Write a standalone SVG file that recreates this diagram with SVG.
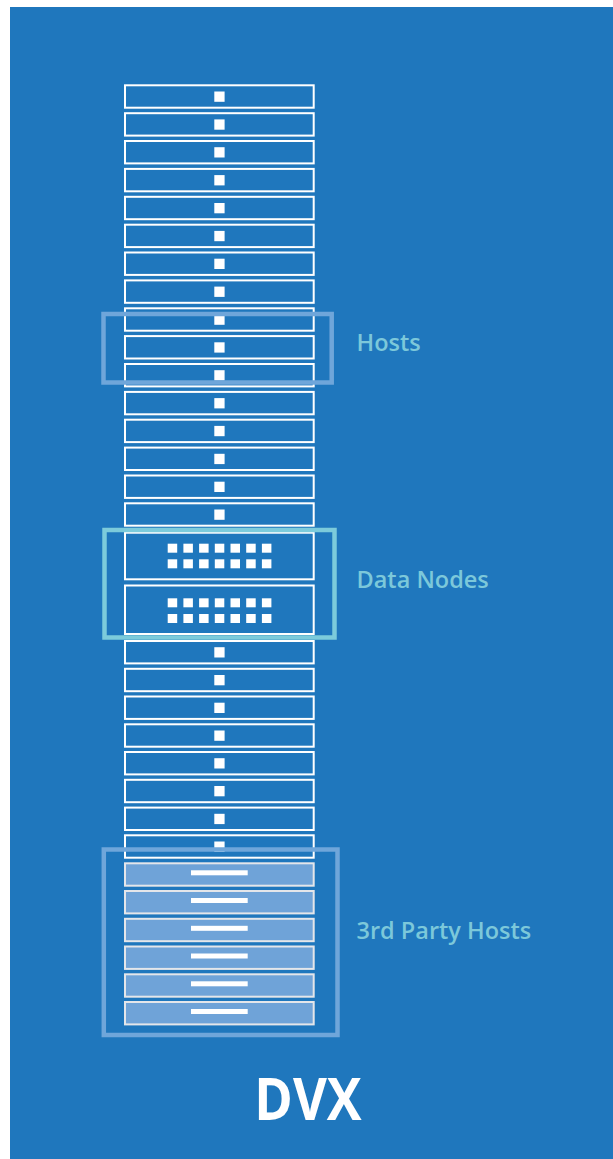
<svg xmlns="http://www.w3.org/2000/svg" width="613" height="1159" viewBox="0 0 613 1159">
<defs>
<style>
.row{fill:none;stroke:#ffffff;stroke-width:2}
.sq{fill:#ffffff}
.trow{fill:#6FA3D8;stroke:#E4E6EA;stroke-width:2}
.bar{fill:#ffffff}
.grp{fill:none;stroke:#6FA6DA;stroke-width:4.5}
.grpc{fill:none;stroke:#7CCBDB;stroke-width:4.5}
.lbl{font-family:"Open Sans","Noto Sans",sans-serif;font-weight:600;font-size:23.5px;fill:#7CC8DA}
.title{font-family:"Open Sans","Noto Sans",sans-serif;font-weight:700;font-size:59px;fill:#ffffff}
</style>
<g id="h">
<rect class="row" x="125" y="1" width="188.7" height="22.4"/>
<rect class="sq" x="214.3" y="7.2" width="10.3" height="10.3"/>
</g>
<g id="d">
<rect class="sq" x="0" y="0" width="9.5" height="9"/>
<rect class="sq" x="15.7" y="0" width="9.5" height="9"/>
<rect class="sq" x="31.4" y="0" width="9.5" height="9"/>
<rect class="sq" x="47.1" y="0" width="9.5" height="9"/>
<rect class="sq" x="62.8" y="0" width="9.5" height="9"/>
<rect class="sq" x="78.5" y="0" width="9.5" height="9"/>
<rect class="sq" x="94.2" y="0" width="9.5" height="9"/>
</g>
<g id="t">
<rect class="trow" x="125" y="1" width="188.7" height="22.4"/>
<rect class="bar" x="191" y="8" width="56.7" height="5"/>
</g>
</defs>
<rect id="background" x="10" y="7" width="603" height="1152" fill="#1F77BD"/>
<g id="connectors"/>
<g id="hosts-rack">
<use href="#h" y="84.3"/>
<use href="#h" y="112.2"/>
<use href="#h" y="140.0"/>
<use href="#h" y="167.9"/>
<use href="#h" y="195.8"/>
<use href="#h" y="223.7"/>
<use href="#h" y="251.5"/>
<use href="#h" y="279.4"/>
<use href="#h" y="307.3"/>
<use href="#h" y="335.1"/>
<use href="#h" y="363.0"/>
<use href="#h" y="390.9"/>
<use href="#h" y="418.7"/>
<use href="#h" y="446.6"/>
<use href="#h" y="474.5"/>
<use href="#h" y="502.3"/>
</g>
<g id="data-node-1">
<rect class="row" x="125" y="532.7" width="188.7" height="46.6"/>
<use href="#d" x="167.7" y="543.7"/>
<use href="#d" x="167.7" y="559.3"/>
</g>
<g id="data-node-2">
<rect class="row" x="125" y="585.5" width="188.7" height="48.5"/>
<use href="#d" x="167.7" y="598.3"/>
<use href="#d" x="167.7" y="614"/>
</g>
<g id="hosts-rack-lower">
<use href="#h" y="640"/>
<use href="#h" y="667.8"/>
<use href="#h" y="695.5"/>
<use href="#h" y="723.3"/>
<use href="#h" y="751.0"/>
<use href="#h" y="778.8"/>
<use href="#h" y="806.6"/>
<use href="#h" y="834.3"/>
</g>
<g id="third-party-rack">
<use href="#t" y="862.3"/>
<use href="#t" y="890.0"/>
<use href="#t" y="917.8"/>
<use href="#t" y="945.5"/>
<use href="#t" y="973.3"/>
<use href="#t" y="1001.0"/>
</g>
<g id="hosts-group">
<rect class="grp" x="103.5" y="314" width="228.2" height="68.5"/>
<text class="lbl" x="356.5" y="350.7">Hosts</text>
</g>
<g id="data-nodes-group">
<rect class="grpc" x="104.5" y="530" width="230" height="107.5"/>
<text class="lbl" x="356.5" y="587.7">Data Nodes</text>
</g>
<g id="third-party-group">
<rect class="grp" x="103.8" y="849.5" width="233.7" height="185.5"/>
<text class="lbl" x="356.5" y="939.3">3rd Party Hosts</text>
</g>
<g id="title">
<text class="title" x="254.3" y="1120" textLength="107.4" lengthAdjust="spacingAndGlyphs">DVX</text>
</g>
</svg>
